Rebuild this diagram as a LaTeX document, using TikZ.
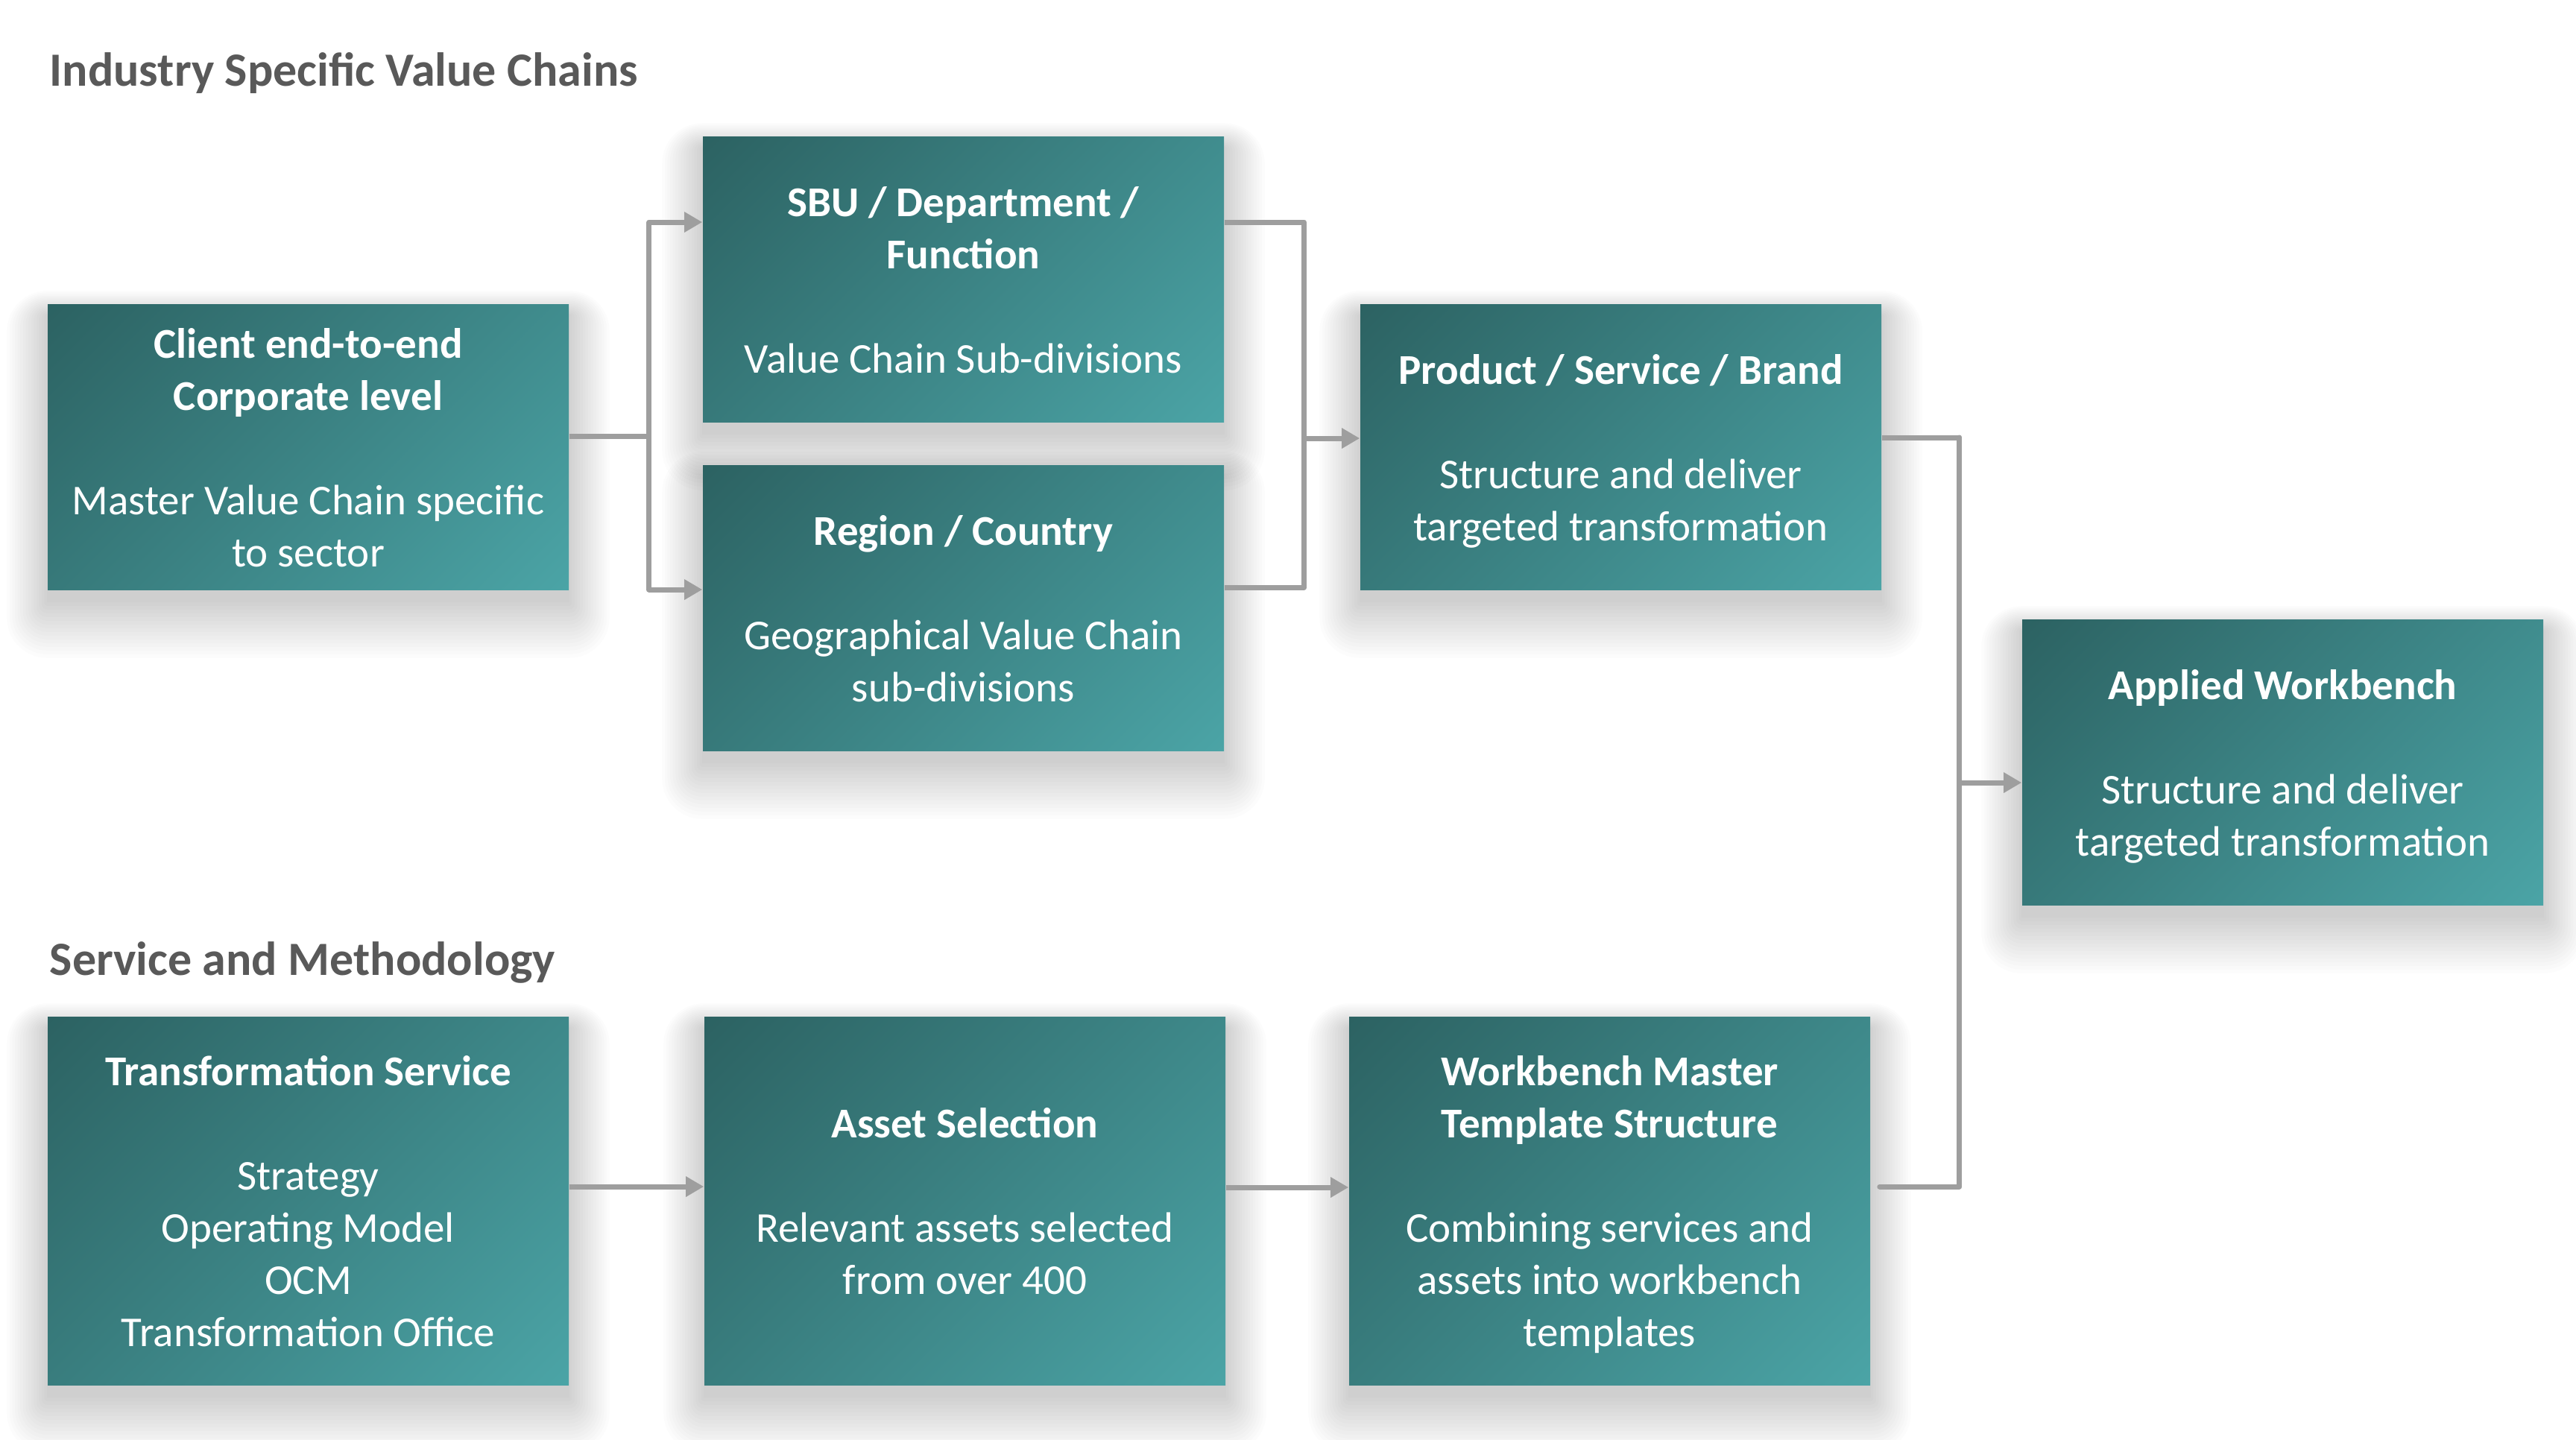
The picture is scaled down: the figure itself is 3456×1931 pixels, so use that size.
\documentclass[tikz,border=0pt]{standalone}
\usepackage{fontspec}
\setmainfont{Carlito}
\usetikzlibrary{arrows.meta,calc}
\definecolor{tdark}{HTML}{2C6262}
\definecolor{tlight}{HTML}{4BA4A6}
\definecolor{conn}{HTML}{9E9E9E}
\definecolor{headgrey}{HTML}{595959}
\pgfdeclareverticalshading{tealdiag}{100bp}{color(0bp)=(tlight); color(14.6bp)=(tlight); color(85.4bp)=(tdark); color(100bp)=(tdark)}
\pgfdeclarelayer{background}
\pgfsetlayers{background,main}
\newcommand{\tstr}{\rule{0pt}{16pt}}
\newcommand{\bstr}{\rule[-5.75pt]{0pt}{5.75pt}}
\begin{document}
\begin{tikzpicture}[x=0.25pt,y=-0.25pt,
  box/.style={rectangle, shade, shading=tealdiag, shading angle=45, minimum width=174.75pt, inner sep=0pt, text=white, align=center, font=\fontsize{14.25pt}{17.5pt}\selectfont},
  rowA/.style={box, minimum height=95.75pt},
  rowB/.style={box, minimum height=123.5pt},
  heading/.style={anchor=base west, inner sep=0pt, text=headgrey, font=\fontsize{16pt}{19.5pt}\selectfont\bfseries},
  link/.style={draw=conn, line width=1.75pt, line join=round},
  arr/.style={link, -{Triangle[length=6pt,width=6.5pt]}},
  shadowpiece/.style={fill=black, fill opacity=0.012, draw=none}
]
\useasboundingbox (0,0) rectangle (3456,1931);

\node[heading] (h1) at (66,115) {Industry Specific Value Chains};
\node[heading] (h2) at (66,1308) {Service and Methodology};

\node[rowA] (client) at (413.5,599.5) {\tstr\textbf{Client end-to-end}\\\textbf{Corporate level}\\\mbox{}\\Master Value Chain specific\\to sector\bstr};
\node[rowA] (sbu) at (1292.5,374.5) {\tstr\textbf{SBU / Department /}\\\textbf{Function}\\\mbox{}\\Value Chain Sub-divisions\bstr};
\node[rowA] (region) at (1292.5,815.5) {\tstr\textbf{Region / Country}\\\mbox{}\\Geographical Value Chain\\sub-divisions\bstr};
\node[rowA] (product) at (2174.5,599.5) {\tstr\textbf{Product / Service / Brand}\\\mbox{}\\Structure and deliver\\targeted transformation\bstr};
\node[rowA] (applied) at (3062.5,1022.5) {\tstr\textbf{Applied Workbench}\\\mbox{}\\Structure and deliver\\targeted transformation\bstr};
\node[rowB] (ts) at (413.5,1611) {\tstr\textbf{Transformation Service}\\\mbox{}\\Strategy\\Operating Model\\OCM\\Transformation Office\bstr};
\node[rowB] (asset) at (1294.5,1611) {\tstr\textbf{Asset Selection}\\\mbox{}\\Relevant assets selected\\from over 400\bstr};
\node[rowB] (wm) at (2159.5,1611) {\tstr\textbf{Workbench Master}\\\textbf{Template Structure}\\\mbox{}\\Combining services and\\assets into workbench\\templates\bstr};

\begin{pgfonlayer}{background}
\fill[white] (0,0) rectangle (3456,1931);
\foreach \n in {client,sbu,region,product,applied,ts,asset,wm}{
  \foreach \k in {0,...,15}{
    \path[shadowpiece, rounded corners=\k*0.9pt]
      ([xshift=-\k*0.9pt, yshift=\k*0.55pt-4pt]\n.north west)
      rectangle ([xshift=\k*0.9pt, yshift=-\k*1.25pt-4pt]\n.south east);
  }
}
\end{pgfonlayer}

% left bracket
\draw[link] ([yshift=3.5pt]client.east) -- ++(26.75pt,0) coordinate (jL);
\draw[arr] (jL) |- ([yshift=19.125pt]sbu.west);
\draw[arr] (jL) |- ([yshift=6.125pt]region.west);
% middle bracket
\draw[link] ([yshift=19.125pt]sbu.east) -- ++(26.75pt,0) coordinate (jR) |- ([yshift=6.875pt]region.east);
\coordinate (pin) at ([yshift=2.875pt]product.west);
\draw[arr] (jR |- pin) -- (pin);
% right bracket
\coordinate (wout) at ([xshift=3pt,yshift=4.75pt]wm.east);
\draw[link] ([yshift=3.125pt]product.east) -- ++(26pt,0) coordinate (jW) -- (jW |- wout);
\draw[link, line cap=round] (wout) -| (jW);
\coordinate (ain) at ([yshift=-6.875pt]applied.west);
\draw[arr] (jW |- ain) -- (ain);
% bottom row
\draw[arr] ([yshift=4.75pt]ts.east) -- ([yshift=4.75pt]asset.west);
\draw[arr] ([yshift=4.5pt]asset.east) -- ([yshift=4.5pt]wm.west);
\end{tikzpicture}
\end{document}
